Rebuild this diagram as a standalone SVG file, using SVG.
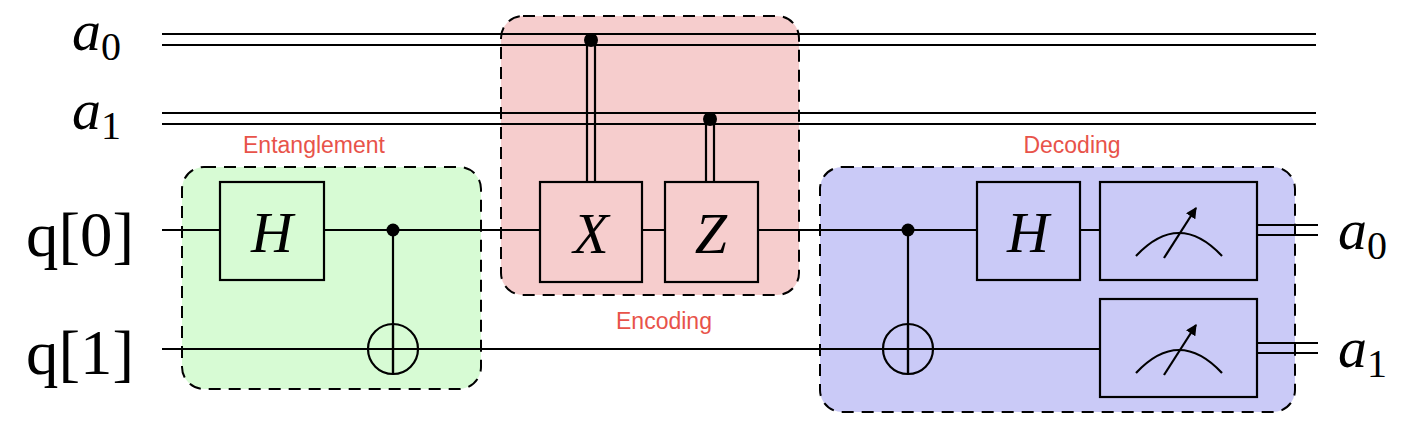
<svg xmlns="http://www.w3.org/2000/svg" width="1420" height="438" viewBox="0 0 1420 438">
<style>
.w{stroke:#000;stroke-width:2.2;fill:none}
.g{stroke:#000;stroke-width:2.2}
.box{stroke:#000;stroke-width:2;stroke-dasharray:12 8}
.lab{font-family:"Liberation Sans",Arial,sans-serif;font-size:23px;fill:#e8534a;text-anchor:middle}
.m{font-family:"Liberation Serif",serif;font-style:italic;font-size:58px;fill:#000}
.s{font-family:"Liberation Serif",serif;font-style:normal;font-size:40px}
.q{font-family:"Liberation Serif",serif;font-size:64px;fill:#000}
</style>
<defs>
<marker id="ah" viewBox="0 0 10 10" refX="9" refY="5" markerWidth="5" markerHeight="5" orient="auto"><path d="M0,0 L10,5 L0,10 z" fill="#000"/></marker>
<g id="meter"><path d="M36,74 Q79,28 122,74" class="w"/><line x1="64" y1="76" x2="96" y2="26" class="w" marker-end="url(#ah)"/></g>
</defs>
<rect width="1420" height="438" fill="#fff"/>
<g id="group-entanglement"><rect x="182" y="167" width="299" height="222" rx="22" fill="#d7fbd4" class="box"/><text x="314" y="153" class="lab">Entanglement</text></g>
<g id="group-encoding"><rect x="501" y="16" width="298" height="279" rx="22" fill="#f6cdcd" class="box"/><text x="664" y="329" class="lab">Encoding</text></g>
<g id="group-decoding"><rect x="820" y="167" width="475" height="245" rx="22" fill="#cacaf7" class="box"/><text x="1072" y="153" class="lab">Decoding</text></g>
<g id="connectors">
<line x1="162" y1="34" x2="1316" y2="34" class="w"/><line x1="162" y1="45" x2="1316" y2="45" class="w"/>
<line x1="162" y1="113" x2="1316" y2="113" class="w"/><line x1="162" y1="124" x2="1316" y2="124" class="w"/>
<line x1="162" y1="230" x2="1100" y2="230" class="w"/>
<line x1="162" y1="349" x2="1100" y2="349" class="w"/>
<line x1="393" y1="230" x2="393" y2="375" class="w"/>
<line x1="908" y1="230" x2="908" y2="375" class="w"/>
<line x1="587" y1="40" x2="587" y2="182" class="w"/><line x1="595" y1="40" x2="595" y2="182" class="w"/>
<line x1="706" y1="119" x2="706" y2="182" class="w"/><line x1="714" y1="119" x2="714" y2="182" class="w"/>
<line x1="1257" y1="225" x2="1318" y2="225" class="w"/><line x1="1257" y1="235" x2="1318" y2="235" class="w"/>
<line x1="1257" y1="343" x2="1318" y2="343" class="w"/><line x1="1257" y1="353" x2="1318" y2="353" class="w"/>
</g>
<g id="labels">
<text x="72" y="50" class="m">a<tspan class="s" dy="10">0</tspan></text>
<text x="72" y="129" class="m">a<tspan class="s" dy="10">1</tspan></text>
<text x="26" y="256" class="q" textLength="108" lengthAdjust="spacingAndGlyphs">q[0]</text>
<text x="26" y="374" class="q" textLength="108" lengthAdjust="spacingAndGlyphs">q[1]</text>
<text x="1338" y="249" class="m">a<tspan class="s" dy="10">0</tspan></text>
<text x="1338" y="367" class="m">a<tspan class="s" dy="10">1</tspan></text>
</g>
<g id="h1"><rect x="220" y="182" width="104" height="98" fill="#d7fbd4" class="g"/><text x="272" y="252" class="m" text-anchor="middle">H</text></g>
<g id="cnot1"><circle cx="393" cy="230" r="6.5" fill="#000"/><circle cx="393" cy="349" r="25" class="w"/><line x1="368" y1="349" x2="418" y2="349" class="w"/><line x1="393" y1="324" x2="393" y2="374" class="w"/></g>
<g id="x"><rect x="540" y="182" width="102" height="100" fill="#f6cdcd" class="g"/><text x="591" y="253" class="m" text-anchor="middle">X</text><circle cx="591" cy="40" r="7" fill="#000"/></g>
<g id="z"><rect x="665" y="182" width="93" height="100" fill="#f6cdcd" class="g"/><text x="711" y="253" class="m" text-anchor="middle">Z</text><circle cx="710" cy="119" r="7" fill="#000"/></g>
<g id="cnot2"><circle cx="908" cy="230" r="6.5" fill="#000"/><circle cx="908" cy="349" r="25" class="w"/><line x1="883" y1="349" x2="933" y2="349" class="w"/><line x1="908" y1="324" x2="908" y2="374" class="w"/></g>
<g id="h2"><rect x="977" y="182" width="103" height="98" fill="#cacaf7" class="g"/><text x="1028" y="252" class="m" text-anchor="middle">H</text></g>
<g id="m0"><rect x="1100" y="182" width="157" height="98" fill="#cacaf7" class="g"/><use href="#meter" x="1100" y="182"/></g>
<g id="m1"><rect x="1100" y="299" width="157" height="98" fill="#cacaf7" class="g"/><use href="#meter" x="1100" y="299"/></g>
</svg>
